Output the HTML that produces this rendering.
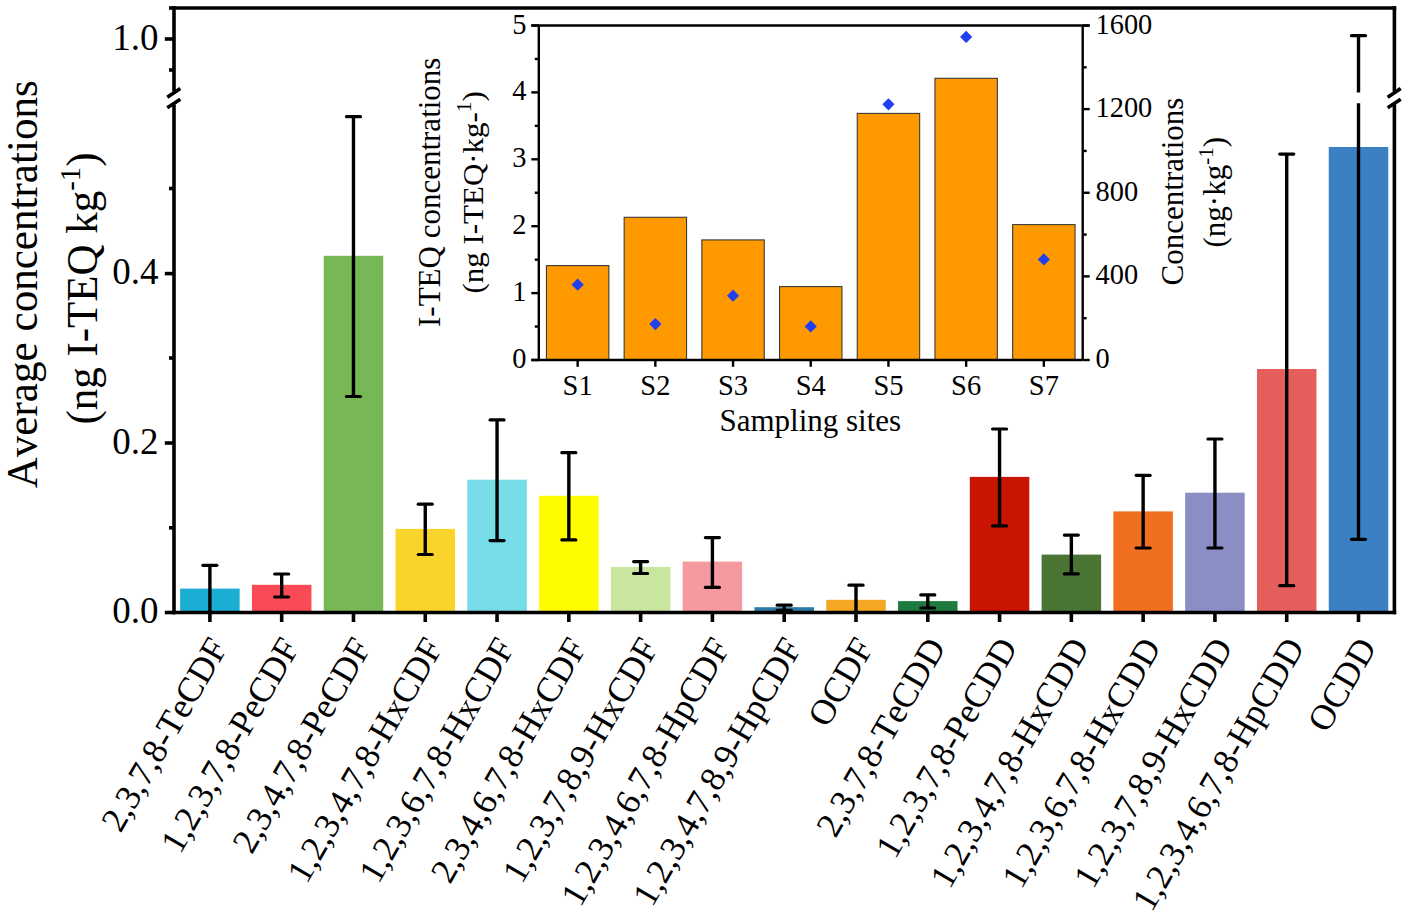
<!DOCTYPE html><html><head><meta charset="utf-8"><title>chart</title><style>html,body{margin:0;padding:0;background:#fff;width:1405px;height:917px;overflow:hidden}svg{display:block}</style></head><body>
<svg width="1405" height="917" viewBox="0 0 1405 917" style="font-family:'Liberation Serif', serif;font-kerning:none">
<rect x="0" y="0" width="1405" height="917" fill="#fff"/>
<rect x="180.14" y="588.60" width="59.5" height="23.90" fill="#1AAED5"/>
<rect x="251.93" y="584.80" width="59.5" height="27.70" fill="#F94A55"/>
<rect x="323.72" y="255.80" width="59.5" height="356.70" fill="#77B755"/>
<rect x="395.51" y="528.90" width="59.5" height="83.60" fill="#F9D42B"/>
<rect x="467.30" y="479.70" width="59.5" height="132.80" fill="#76DCE8"/>
<rect x="539.09" y="495.80" width="59.5" height="116.70" fill="#FFFC00"/>
<rect x="610.87" y="566.90" width="59.5" height="45.60" fill="#C8E6A0"/>
<rect x="682.66" y="561.60" width="59.5" height="50.90" fill="#F49AA0"/>
<rect x="754.45" y="607.20" width="59.5" height="5.30" fill="#2C7BA6"/>
<rect x="826.24" y="599.80" width="59.5" height="12.70" fill="#F5A823"/>
<rect x="898.03" y="601.10" width="59.5" height="11.40" fill="#1F7A40"/>
<rect x="969.81" y="476.90" width="59.5" height="135.60" fill="#C81400"/>
<rect x="1041.60" y="554.60" width="59.5" height="57.90" fill="#4A7535"/>
<rect x="1113.39" y="511.40" width="59.5" height="101.10" fill="#F06E20"/>
<rect x="1185.18" y="492.70" width="59.5" height="119.80" fill="#8B8EC5"/>
<rect x="1256.97" y="369.00" width="59.5" height="243.50" fill="#E45E5C"/>
<rect x="1328.76" y="147.00" width="59.5" height="465.50" fill="#3B80C3"/>
<line x1="209.89" y1="565.3" x2="209.89" y2="612.5" stroke="#000" stroke-width="3.4"/>
<line x1="202.89" y1="565.3" x2="216.89" y2="565.3" stroke="#000" stroke-width="3.2" stroke-linecap="round"/>
<line x1="281.68" y1="574.0" x2="281.68" y2="597.0" stroke="#000" stroke-width="3.4"/>
<line x1="274.68" y1="574.0" x2="288.68" y2="574.0" stroke="#000" stroke-width="3.2" stroke-linecap="round"/>
<line x1="274.68" y1="597.0" x2="288.68" y2="597.0" stroke="#000" stroke-width="3.2" stroke-linecap="round"/>
<line x1="353.47" y1="116.7" x2="353.47" y2="396.5" stroke="#000" stroke-width="3.4"/>
<line x1="346.47" y1="116.7" x2="360.47" y2="116.7" stroke="#000" stroke-width="3.2" stroke-linecap="round"/>
<line x1="346.47" y1="396.5" x2="360.47" y2="396.5" stroke="#000" stroke-width="3.2" stroke-linecap="round"/>
<line x1="425.26" y1="504.2" x2="425.26" y2="554.5" stroke="#000" stroke-width="3.4"/>
<line x1="418.26" y1="504.2" x2="432.26" y2="504.2" stroke="#000" stroke-width="3.2" stroke-linecap="round"/>
<line x1="418.26" y1="554.5" x2="432.26" y2="554.5" stroke="#000" stroke-width="3.2" stroke-linecap="round"/>
<line x1="497.05" y1="419.9" x2="497.05" y2="540.6" stroke="#000" stroke-width="3.4"/>
<line x1="490.05" y1="419.9" x2="504.05" y2="419.9" stroke="#000" stroke-width="3.2" stroke-linecap="round"/>
<line x1="490.05" y1="540.6" x2="504.05" y2="540.6" stroke="#000" stroke-width="3.2" stroke-linecap="round"/>
<line x1="568.84" y1="452.7" x2="568.84" y2="539.9" stroke="#000" stroke-width="3.4"/>
<line x1="561.84" y1="452.7" x2="575.84" y2="452.7" stroke="#000" stroke-width="3.2" stroke-linecap="round"/>
<line x1="561.84" y1="539.9" x2="575.84" y2="539.9" stroke="#000" stroke-width="3.2" stroke-linecap="round"/>
<line x1="640.62" y1="561.6" x2="640.62" y2="573.5" stroke="#000" stroke-width="3.4"/>
<line x1="633.62" y1="561.6" x2="647.62" y2="561.6" stroke="#000" stroke-width="3.2" stroke-linecap="round"/>
<line x1="633.62" y1="573.5" x2="647.62" y2="573.5" stroke="#000" stroke-width="3.2" stroke-linecap="round"/>
<line x1="712.41" y1="537.6" x2="712.41" y2="587.4" stroke="#000" stroke-width="3.4"/>
<line x1="705.41" y1="537.6" x2="719.41" y2="537.6" stroke="#000" stroke-width="3.2" stroke-linecap="round"/>
<line x1="705.41" y1="587.4" x2="719.41" y2="587.4" stroke="#000" stroke-width="3.2" stroke-linecap="round"/>
<line x1="784.20" y1="605.2" x2="784.20" y2="610.3" stroke="#000" stroke-width="3.4"/>
<line x1="777.20" y1="605.2" x2="791.20" y2="605.2" stroke="#000" stroke-width="3.2" stroke-linecap="round"/>
<line x1="777.20" y1="610.3" x2="791.20" y2="610.3" stroke="#000" stroke-width="3.2" stroke-linecap="round"/>
<line x1="855.99" y1="585.2" x2="855.99" y2="612.5" stroke="#000" stroke-width="3.4"/>
<line x1="848.99" y1="585.2" x2="862.99" y2="585.2" stroke="#000" stroke-width="3.2" stroke-linecap="round"/>
<line x1="927.78" y1="594.9" x2="927.78" y2="608.0" stroke="#000" stroke-width="3.4"/>
<line x1="920.78" y1="594.9" x2="934.78" y2="594.9" stroke="#000" stroke-width="3.2" stroke-linecap="round"/>
<line x1="920.78" y1="608.0" x2="934.78" y2="608.0" stroke="#000" stroke-width="3.2" stroke-linecap="round"/>
<line x1="999.56" y1="429.0" x2="999.56" y2="525.9" stroke="#000" stroke-width="3.4"/>
<line x1="992.56" y1="429.0" x2="1006.56" y2="429.0" stroke="#000" stroke-width="3.2" stroke-linecap="round"/>
<line x1="992.56" y1="525.9" x2="1006.56" y2="525.9" stroke="#000" stroke-width="3.2" stroke-linecap="round"/>
<line x1="1071.35" y1="535.1" x2="1071.35" y2="573.8" stroke="#000" stroke-width="3.4"/>
<line x1="1064.35" y1="535.1" x2="1078.35" y2="535.1" stroke="#000" stroke-width="3.2" stroke-linecap="round"/>
<line x1="1064.35" y1="573.8" x2="1078.35" y2="573.8" stroke="#000" stroke-width="3.2" stroke-linecap="round"/>
<line x1="1143.14" y1="475.3" x2="1143.14" y2="548.0" stroke="#000" stroke-width="3.4"/>
<line x1="1136.14" y1="475.3" x2="1150.14" y2="475.3" stroke="#000" stroke-width="3.2" stroke-linecap="round"/>
<line x1="1136.14" y1="548.0" x2="1150.14" y2="548.0" stroke="#000" stroke-width="3.2" stroke-linecap="round"/>
<line x1="1214.93" y1="439.0" x2="1214.93" y2="548.0" stroke="#000" stroke-width="3.4"/>
<line x1="1207.93" y1="439.0" x2="1221.93" y2="439.0" stroke="#000" stroke-width="3.2" stroke-linecap="round"/>
<line x1="1207.93" y1="548.0" x2="1221.93" y2="548.0" stroke="#000" stroke-width="3.2" stroke-linecap="round"/>
<line x1="1286.72" y1="154.1" x2="1286.72" y2="585.7" stroke="#000" stroke-width="3.4"/>
<line x1="1279.72" y1="154.1" x2="1293.72" y2="154.1" stroke="#000" stroke-width="3.2" stroke-linecap="round"/>
<line x1="1279.72" y1="585.7" x2="1293.72" y2="585.7" stroke="#000" stroke-width="3.2" stroke-linecap="round"/>
<line x1="1358.51" y1="35.7" x2="1358.51" y2="92.5" stroke="#000" stroke-width="3.4"/>
<line x1="1358.51" y1="103.2" x2="1358.51" y2="539.3" stroke="#000" stroke-width="3.4"/>
<line x1="1351.51" y1="35.7" x2="1365.51" y2="35.7" stroke="#000" stroke-width="3.2" stroke-linecap="round"/>
<line x1="1351.51" y1="539.3" x2="1365.51" y2="539.3" stroke="#000" stroke-width="3.2" stroke-linecap="round"/>
<line x1="172.2" y1="8.0" x2="1396.2" y2="8.0" stroke="#000" stroke-width="3.6"/>
<line x1="172.2" y1="612.5" x2="1396.2" y2="612.5" stroke="#000" stroke-width="3.6"/>
<line x1="174.0" y1="6.2" x2="174.0" y2="91.5" stroke="#000" stroke-width="3.6"/>
<line x1="174.0" y1="104.5" x2="174.0" y2="614.3" stroke="#000" stroke-width="3.6"/>
<polygon points="166.0,103.5 182.0,92.5 182.0,98.0 166.0,98.0" fill="#fff"/>
<line x1="167.3" y1="97.3" x2="180.3" y2="88.6" stroke="#000" stroke-width="3.6"/>
<line x1="167.3" y1="107.7" x2="180.3" y2="99.3" stroke="#000" stroke-width="3.6"/>
<line x1="1394.4" y1="6.2" x2="1394.4" y2="91.5" stroke="#000" stroke-width="3.6"/>
<line x1="1394.4" y1="104.5" x2="1394.4" y2="614.3" stroke="#000" stroke-width="3.6"/>
<polygon points="1386.4,103.5 1402.4,92.5 1402.4,98.0 1386.4,98.0" fill="#fff"/>
<line x1="1387.7" y1="97.3" x2="1400.7" y2="88.6" stroke="#000" stroke-width="3.6"/>
<line x1="1387.7" y1="107.7" x2="1400.7" y2="99.3" stroke="#000" stroke-width="3.6"/>
<line x1="164.8" y1="39.0" x2="174.0" y2="39.0" stroke="#000" stroke-width="3.6"/>
<line x1="164.8" y1="273.6" x2="174.0" y2="273.6" stroke="#000" stroke-width="3.6"/>
<line x1="164.8" y1="443.0" x2="174.0" y2="443.0" stroke="#000" stroke-width="3.6"/>
<line x1="164.8" y1="612.5" x2="174.0" y2="612.5" stroke="#000" stroke-width="3.6"/>
<line x1="169" y1="8.0" x2="174.0" y2="8.0" stroke="#000" stroke-width="3.6"/>
<line x1="169" y1="70.0" x2="174.0" y2="70.0" stroke="#000" stroke-width="3.6"/>
<line x1="169" y1="188.5" x2="174.0" y2="188.5" stroke="#000" stroke-width="3.6"/>
<line x1="169" y1="358.0" x2="174.0" y2="358.0" stroke="#000" stroke-width="3.6"/>
<line x1="169" y1="527.8" x2="174.0" y2="527.8" stroke="#000" stroke-width="3.6"/>
<line x1="209.89" y1="612.5" x2="209.89" y2="622" stroke="#000" stroke-width="3.6"/>
<line x1="281.68" y1="612.5" x2="281.68" y2="622" stroke="#000" stroke-width="3.6"/>
<line x1="353.47" y1="612.5" x2="353.47" y2="622" stroke="#000" stroke-width="3.6"/>
<line x1="425.26" y1="612.5" x2="425.26" y2="622" stroke="#000" stroke-width="3.6"/>
<line x1="497.05" y1="612.5" x2="497.05" y2="622" stroke="#000" stroke-width="3.6"/>
<line x1="568.84" y1="612.5" x2="568.84" y2="622" stroke="#000" stroke-width="3.6"/>
<line x1="640.62" y1="612.5" x2="640.62" y2="622" stroke="#000" stroke-width="3.6"/>
<line x1="712.41" y1="612.5" x2="712.41" y2="622" stroke="#000" stroke-width="3.6"/>
<line x1="784.20" y1="612.5" x2="784.20" y2="622" stroke="#000" stroke-width="3.6"/>
<line x1="855.99" y1="612.5" x2="855.99" y2="622" stroke="#000" stroke-width="3.6"/>
<line x1="927.78" y1="612.5" x2="927.78" y2="622" stroke="#000" stroke-width="3.6"/>
<line x1="999.56" y1="612.5" x2="999.56" y2="622" stroke="#000" stroke-width="3.6"/>
<line x1="1071.35" y1="612.5" x2="1071.35" y2="622" stroke="#000" stroke-width="3.6"/>
<line x1="1143.14" y1="612.5" x2="1143.14" y2="622" stroke="#000" stroke-width="3.6"/>
<line x1="1214.93" y1="612.5" x2="1214.93" y2="622" stroke="#000" stroke-width="3.6"/>
<line x1="1286.72" y1="612.5" x2="1286.72" y2="622" stroke="#000" stroke-width="3.6"/>
<line x1="1358.51" y1="612.5" x2="1358.51" y2="622" stroke="#000" stroke-width="3.6"/>
<text x="158.5" y="49.5" font-size="37" text-anchor="end" fill="#000">1.0</text>
<text x="158.5" y="284.0" font-size="37" text-anchor="end" fill="#000">0.4</text>
<text x="158.5" y="453.5" font-size="37" text-anchor="end" fill="#000">0.2</text>
<text x="158.5" y="622.5" font-size="37" text-anchor="end" fill="#000">0.0</text>
<text transform="translate(228.59,646.8) rotate(-60)" font-size="35.5" text-anchor="end" fill="#000">2,3,7,8-TeCDF</text>
<text transform="translate(300.38,646.8) rotate(-60)" font-size="35.5" text-anchor="end" fill="#000">1,2,3,7,8-PeCDF</text>
<text transform="translate(372.17,646.8) rotate(-60)" font-size="35.5" text-anchor="end" fill="#000">2,3,4,7,8-PeCDF</text>
<text transform="translate(443.96,646.8) rotate(-60)" font-size="35.5" text-anchor="end" fill="#000">1,2,3,4,7,8-HxCDF</text>
<text transform="translate(515.75,646.8) rotate(-60)" font-size="35.5" text-anchor="end" fill="#000">1,2,3,6,7,8-HxCDF</text>
<text transform="translate(587.54,646.8) rotate(-60)" font-size="35.5" text-anchor="end" fill="#000">2,3,4,6,7,8-HxCDF</text>
<text transform="translate(659.32,646.8) rotate(-60)" font-size="35.5" text-anchor="end" fill="#000">1,2,3,7,8,9-HxCDF</text>
<text transform="translate(731.11,646.8) rotate(-60)" font-size="35.5" text-anchor="end" fill="#000">1,2,3,4,6,7,8-HpCDF</text>
<text transform="translate(802.90,646.8) rotate(-60)" font-size="35.5" text-anchor="end" fill="#000">1,2,3,4,7,8,9-HpCDF</text>
<text transform="translate(874.69,646.8) rotate(-60)" font-size="35.5" text-anchor="end" fill="#000">OCDF</text>
<text transform="translate(946.48,646.8) rotate(-60)" font-size="35.5" text-anchor="end" fill="#000">2,3,7,8-TeCDD</text>
<text transform="translate(1018.26,646.8) rotate(-60)" font-size="35.5" text-anchor="end" fill="#000">1,2,3,7,8-PeCDD</text>
<text transform="translate(1090.05,646.8) rotate(-60)" font-size="35.5" text-anchor="end" fill="#000">1,2,3,4,7,8-HxCDD</text>
<text transform="translate(1161.84,646.8) rotate(-60)" font-size="35.5" text-anchor="end" fill="#000">1,2,3,6,7,8-HxCDD</text>
<text transform="translate(1233.63,646.8) rotate(-60)" font-size="35.5" text-anchor="end" fill="#000">1,2,3,7,8,9-HxCDD</text>
<text transform="translate(1305.42,646.8) rotate(-60)" font-size="35.5" text-anchor="end" fill="#000">1,2,3,4,6,7,8-HpCDD</text>
<text transform="translate(1377.21,646.8) rotate(-60)" font-size="35.5" text-anchor="end" fill="#000">OCDD</text>
<text transform="translate(37.4,488.3) rotate(-90) scale(0.958,1)" font-size="45" fill="#000">Average</text>
<text transform="translate(37.4,331.5) rotate(-90) scale(0.958,1)" font-size="45" fill="#000">concentrations</text>
<text transform="translate(96.5,424.5) rotate(-90) scale(0.955,1)" font-size="45" fill="#000">(ng I-TEQ kg<tspan font-size="30" dy="-17">-1</tspan><tspan dy="17">)</tspan></text>
<rect x="538.8" y="25.5" width="543.9000000000001" height="334.5" fill="#fff"/>
<rect x="546.45" y="265.6" width="62.4" height="94.40" fill="#FF9900" stroke="#3a3a3a" stroke-width="1.1"/>
<rect x="624.15" y="217.3" width="62.4" height="142.70" fill="#FF9900" stroke="#3a3a3a" stroke-width="1.1"/>
<rect x="701.85" y="239.9" width="62.4" height="120.10" fill="#FF9900" stroke="#3a3a3a" stroke-width="1.1"/>
<rect x="779.55" y="286.6" width="62.4" height="73.40" fill="#FF9900" stroke="#3a3a3a" stroke-width="1.1"/>
<rect x="857.25" y="113.4" width="62.4" height="246.60" fill="#FF9900" stroke="#3a3a3a" stroke-width="1.1"/>
<rect x="934.95" y="78.3" width="62.4" height="281.70" fill="#FF9900" stroke="#3a3a3a" stroke-width="1.1"/>
<rect x="1012.65" y="224.6" width="62.4" height="135.40" fill="#FF9900" stroke="#3a3a3a" stroke-width="1.1"/>
<polygon points="577.65,278.59999999999997 583.75,284.7 577.65,290.8 571.55,284.7" fill="#1F3FF0"/>
<polygon points="655.35,318.0 661.45,324.1 655.35,330.20000000000005 649.25,324.1" fill="#1F3FF0"/>
<polygon points="733.05,289.59999999999997 739.15,295.7 733.05,301.8 726.95,295.7" fill="#1F3FF0"/>
<polygon points="810.75,320.29999999999995 816.85,326.4 810.75,332.5 804.65,326.4" fill="#1F3FF0"/>
<polygon points="888.45,98.2 894.55,104.3 888.45,110.39999999999999 882.35,104.3" fill="#1F3FF0"/>
<polygon points="966.15,30.799999999999997 972.25,36.9 966.15,43.0 960.05,36.9" fill="#1F3FF0"/>
<polygon points="1043.85,253.29999999999998 1049.95,259.4 1043.85,265.5 1037.75,259.4" fill="#1F3FF0"/>
<line x1="531.3" y1="25.5" x2="1089.7" y2="25.5" stroke="#000" stroke-width="2.4"/>
<line x1="531.3" y1="360.0" x2="1082.7" y2="360.0" stroke="#000" stroke-width="2.4"/>
<line x1="538.8" y1="25.5" x2="538.8" y2="360.0" stroke="#000" stroke-width="2.4"/>
<line x1="1082.7" y1="25.5" x2="1082.7" y2="360.0" stroke="#000" stroke-width="2.4"/>
<line x1="531.3" y1="360.00" x2="538.8" y2="360.00" stroke="#000" stroke-width="2.4"/>
<text x="526.5" y="368.00" font-size="28.4" text-anchor="end" fill="#000">0</text>
<line x1="534.8" y1="326.55" x2="538.8" y2="326.55" stroke="#000" stroke-width="2.4"/>
<line x1="531.3" y1="293.10" x2="538.8" y2="293.10" stroke="#000" stroke-width="2.4"/>
<text x="526.5" y="301.10" font-size="28.4" text-anchor="end" fill="#000">1</text>
<line x1="534.8" y1="259.65" x2="538.8" y2="259.65" stroke="#000" stroke-width="2.4"/>
<line x1="531.3" y1="226.20" x2="538.8" y2="226.20" stroke="#000" stroke-width="2.4"/>
<text x="526.5" y="234.20" font-size="28.4" text-anchor="end" fill="#000">2</text>
<line x1="534.8" y1="192.75" x2="538.8" y2="192.75" stroke="#000" stroke-width="2.4"/>
<line x1="531.3" y1="159.30" x2="538.8" y2="159.30" stroke="#000" stroke-width="2.4"/>
<text x="526.5" y="167.30" font-size="28.4" text-anchor="end" fill="#000">3</text>
<line x1="534.8" y1="125.85" x2="538.8" y2="125.85" stroke="#000" stroke-width="2.4"/>
<line x1="531.3" y1="92.40" x2="538.8" y2="92.40" stroke="#000" stroke-width="2.4"/>
<text x="526.5" y="100.40" font-size="28.4" text-anchor="end" fill="#000">4</text>
<line x1="534.8" y1="58.95" x2="538.8" y2="58.95" stroke="#000" stroke-width="2.4"/>
<line x1="531.3" y1="25.50" x2="538.8" y2="25.50" stroke="#000" stroke-width="2.4"/>
<text x="526.5" y="33.50" font-size="28.4" text-anchor="end" fill="#000">5</text>
<line x1="1082.7" y1="360.00" x2="1089.7" y2="360.00" stroke="#000" stroke-width="2.4"/>
<text x="1095.5" y="368.00" font-size="28.4" fill="#000">0</text>
<line x1="1082.7" y1="318.19" x2="1086.7" y2="318.19" stroke="#000" stroke-width="2.4"/>
<line x1="1082.7" y1="276.38" x2="1089.7" y2="276.38" stroke="#000" stroke-width="2.4"/>
<text x="1095.5" y="284.38" font-size="28.4" fill="#000">400</text>
<line x1="1082.7" y1="234.56" x2="1086.7" y2="234.56" stroke="#000" stroke-width="2.4"/>
<line x1="1082.7" y1="192.75" x2="1089.7" y2="192.75" stroke="#000" stroke-width="2.4"/>
<text x="1095.5" y="200.75" font-size="28.4" fill="#000">800</text>
<line x1="1082.7" y1="150.94" x2="1086.7" y2="150.94" stroke="#000" stroke-width="2.4"/>
<line x1="1082.7" y1="109.12" x2="1089.7" y2="109.12" stroke="#000" stroke-width="2.4"/>
<text x="1095.5" y="117.12" font-size="28.4" fill="#000">1200</text>
<line x1="1082.7" y1="67.31" x2="1086.7" y2="67.31" stroke="#000" stroke-width="2.4"/>
<line x1="1082.7" y1="25.50" x2="1089.7" y2="25.50" stroke="#000" stroke-width="2.4"/>
<text x="1095.5" y="33.50" font-size="28.4" fill="#000">1600</text>
<line x1="577.65" y1="360.0" x2="577.65" y2="366.8" stroke="#000" stroke-width="2.4"/>
<text x="577.65" y="394.5" font-size="28.5" text-anchor="middle" fill="#000">S1</text>
<line x1="655.35" y1="360.0" x2="655.35" y2="366.8" stroke="#000" stroke-width="2.4"/>
<text x="655.35" y="394.5" font-size="28.5" text-anchor="middle" fill="#000">S2</text>
<line x1="733.05" y1="360.0" x2="733.05" y2="366.8" stroke="#000" stroke-width="2.4"/>
<text x="733.05" y="394.5" font-size="28.5" text-anchor="middle" fill="#000">S3</text>
<line x1="810.75" y1="360.0" x2="810.75" y2="366.8" stroke="#000" stroke-width="2.4"/>
<text x="810.75" y="394.5" font-size="28.5" text-anchor="middle" fill="#000">S4</text>
<line x1="888.45" y1="360.0" x2="888.45" y2="366.8" stroke="#000" stroke-width="2.4"/>
<text x="888.45" y="394.5" font-size="28.5" text-anchor="middle" fill="#000">S5</text>
<line x1="966.15" y1="360.0" x2="966.15" y2="366.8" stroke="#000" stroke-width="2.4"/>
<text x="966.15" y="394.5" font-size="28.5" text-anchor="middle" fill="#000">S6</text>
<line x1="1043.85" y1="360.0" x2="1043.85" y2="366.8" stroke="#000" stroke-width="2.4"/>
<text x="1043.85" y="394.5" font-size="28.5" text-anchor="middle" fill="#000">S7</text>
<text x="810.3" y="430.5" font-size="31" text-anchor="middle" fill="#000">Sampling sites</text>
<text transform="translate(439.5,327) rotate(-90)" font-size="31" fill="#000">I-TEQ concentrations</text>
<text transform="translate(483.3,293.5) rotate(-90) scale(1.015,1)" font-size="30.5" fill="#000">(ng I-TEQ·kg-<tspan font-size="21" dy="-12">1</tspan><tspan dy="12">)</tspan></text>
<text transform="translate(1182.5,285.5) rotate(-90) scale(0.97,1)" font-size="32" fill="#000">Concentrations</text>
<text transform="translate(1225,247.5) rotate(-90)" font-size="31" fill="#000">(ng·kg<tspan font-size="21" dy="-12">-1</tspan><tspan dy="12">)</tspan></text>
</svg></body></html>
